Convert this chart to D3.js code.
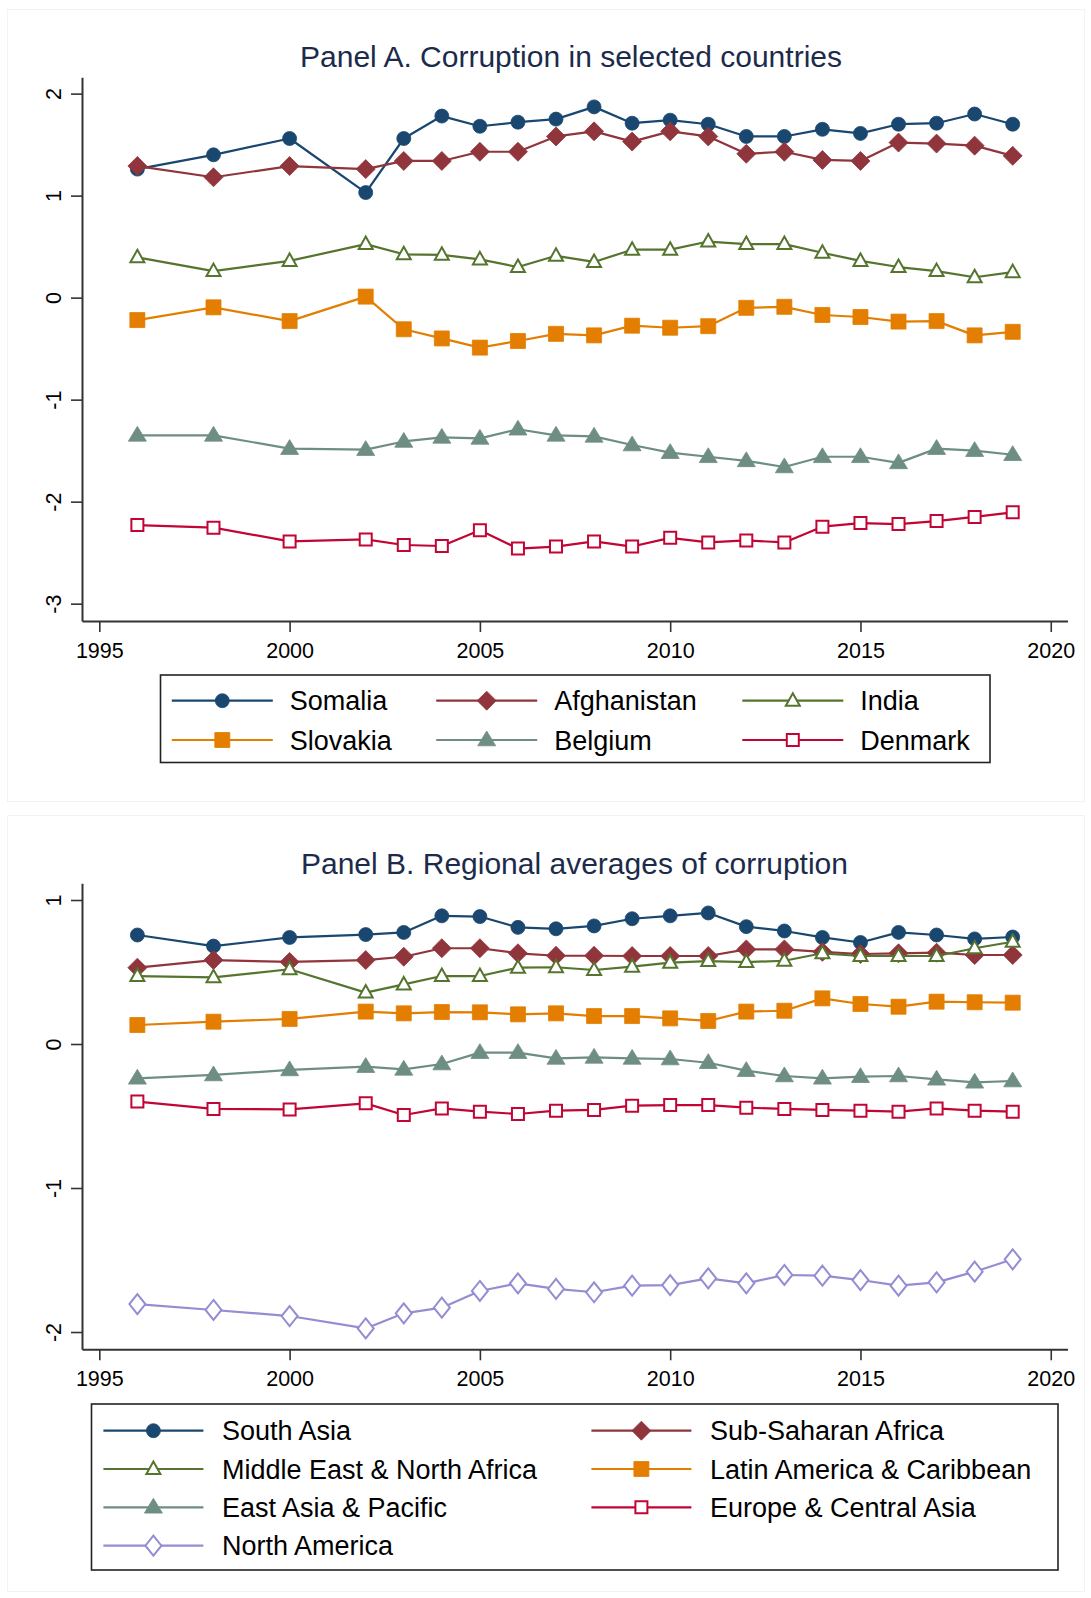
<!DOCTYPE html>
<html>
<head>
<meta charset="utf-8">
<script src="https://cdn.jsdelivr.net/npm/d3@7/dist/d3.min.js"></script>
<style>
  html, body { margin: 0; padding: 0; background: #fff; }
  svg { display: block; font-family: "Liberation Sans", Arial, sans-serif; }
</style>
</head>
<body>
<svg id="chart" width="1091" height="1598"></svg>
<script>
// ---------------- DATA ----------------
const years = [1996, 1998, 2000, 2002, 2003, 2004, 2005, 2006, 2007, 2008, 2009,
               2010, 2011, 2012, 2013, 2014, 2015, 2016, 2017, 2018, 2019];
const xTicks = [1995, 2000, 2005, 2010, 2015, 2020];
const yTicksA = [-3, -2, -1, 0, 1, 2];
const yTicksB = [-2, -1, 0, 1];

const titleA = "Panel A. Corruption in selected countries";
const titleB = "Panel B. Regional averages of corruption";

// Panel A
const somalia     = [1.26, 1.40, 1.56, 1.03, 1.56, 1.78, 1.68, 1.72, 1.75, 1.87, 1.71, 1.74, 1.70, 1.58, 1.58, 1.65, 1.61, 1.70, 1.71, 1.80, 1.70];
const afghanistan = [1.29, 1.18, 1.29, 1.26, 1.34, 1.34, 1.43, 1.43, 1.58, 1.63, 1.53, 1.63, 1.58, 1.41, 1.43, 1.35, 1.34, 1.52, 1.51, 1.49, 1.39];
const india       = [0.395, 0.26, 0.36, 0.525, 0.425, 0.42, 0.375, 0.30, 0.41, 0.35, 0.47, 0.47, 0.55, 0.525, 0.525, 0.44, 0.36, 0.30, 0.26, 0.20, 0.25];
const slovakia    = [-0.22, -0.095, -0.23, 0.01, -0.31, -0.40, -0.49, -0.425, -0.355, -0.37, -0.275, -0.295, -0.28, -0.10, -0.09, -0.17, -0.19, -0.235, -0.23, -0.37, -0.335];
const belgium     = [-1.35, -1.35, -1.48, -1.49, -1.41, -1.37, -1.38, -1.29, -1.35, -1.36, -1.445, -1.52, -1.56, -1.60, -1.66, -1.56, -1.56, -1.62, -1.48, -1.50, -1.54];
const denmark     = [-2.23, -2.255, -2.39, -2.37, -2.425, -2.435, -2.28, -2.46, -2.44, -2.39, -2.44, -2.355, -2.40, -2.38, -2.40, -2.245, -2.21, -2.22, -2.19, -2.15, -2.105];

// Panel B
const southAsia    = [0.757, 0.68, 0.74, 0.76, 0.775, 0.89, 0.885, 0.81, 0.80, 0.82, 0.87, 0.89, 0.91, 0.815, 0.785, 0.74, 0.705, 0.775, 0.757, 0.73, 0.743];
const subSaharan   = [0.53, 0.583, 0.57, 0.583, 0.606, 0.665, 0.665, 0.63, 0.613, 0.613, 0.611, 0.611, 0.611, 0.657, 0.657, 0.64, 0.625, 0.63, 0.634, 0.618, 0.618];
const mena         = [0.472, 0.463, 0.519, 0.357, 0.414, 0.472, 0.472, 0.53, 0.533, 0.514, 0.537, 0.565, 0.576, 0.569, 0.578, 0.63, 0.611, 0.611, 0.611, 0.665, 0.71];
const latam        = [0.132, 0.155, 0.174, 0.225, 0.213, 0.222, 0.22, 0.206, 0.213, 0.194, 0.194, 0.178, 0.16, 0.225, 0.231, 0.317, 0.278, 0.259, 0.294, 0.29, 0.287];
const eastAsia     = [-0.238, -0.215, -0.18, -0.157, -0.176, -0.139, -0.06, -0.06, -0.10, -0.093, -0.10, -0.104, -0.13, -0.185, -0.222, -0.238, -0.227, -0.222, -0.245, -0.266, -0.257];
const europe       = [-0.40, -0.451, -0.454, -0.412, -0.493, -0.447, -0.47, -0.486, -0.463, -0.458, -0.428, -0.424, -0.424, -0.442, -0.451, -0.458, -0.463, -0.47, -0.447, -0.463, -0.47];
const northAmerica = [-1.806, -1.847, -1.889, -1.975, -1.87, -1.831, -1.715, -1.662, -1.701, -1.724, -1.678, -1.674, -1.627, -1.662, -1.604, -1.609, -1.639, -1.678, -1.655, -1.581, -1.495];

// ---------------- STYLE ----------------
const C = {
  navy: "#1a476f", maroon: "#90353b", green: "#55752f", orange: "#e37e00",
  teal: "#6e8e84", cranberry: "#c10534", lavender: "#938dd2"
};
const FONT = "'Liberation Sans', Arial, sans-serif";

// marker path generators (centered at 0,0)
const markers = {
  circle: { d: "M7,0A7,7 0 1,1 -7,0A7,7 0 1,1 7,0Z", hollow: false },
  diamond: { d: "M0,-9.5L9.5,0L0,9.5L-9.5,0Z", hollow: false },
  tri: { d: "M0,-9L9,5.8L-9,5.8Z", hollow: false },
  triO: { d: "M0,-7.5L7,5L-7,5Z", hollow: true },
  square: { d: "M-7.5,-7.5H7.5V7.5H-7.5Z", hollow: false },
  squareO: { d: "M-6,-6H6V6H-6Z", hollow: true },
  diamondO: { d: "M0,-10L8,0L0,10L-8,0Z", hollow: true }
};

const seriesA = [
  { name: "Somalia", values: somalia, color: C.navy, marker: "circle" },
  { name: "Afghanistan", values: afghanistan, color: C.maroon, marker: "diamond" },
  { name: "India", values: india, color: C.green, marker: "triO" },
  { name: "Slovakia", values: slovakia, color: C.orange, marker: "square" },
  { name: "Belgium", values: belgium, color: C.teal, marker: "tri" },
  { name: "Denmark", values: denmark, color: C.cranberry, marker: "squareO" }
];
const seriesB = [
  { name: "South Asia", values: southAsia, color: C.navy, marker: "circle" },
  { name: "Sub-Saharan Africa", values: subSaharan, color: C.maroon, marker: "diamond" },
  { name: "Middle East & North Africa", values: mena, color: C.green, marker: "triO" },
  { name: "Latin America & Caribbean", values: latam, color: C.orange, marker: "square" },
  { name: "East Asia & Pacific", values: eastAsia, color: C.teal, marker: "tri" },
  { name: "Europe & Central Asia", values: europe, color: C.cranberry, marker: "squareO" },
  { name: "North America", values: northAmerica, color: C.lavender, marker: "diamondO" }
];

const svg = d3.select("#chart");
svg.append("rect").attr("width", 1091).attr("height", 1598).attr("fill", "#fff");

// faint panel frames
svg.append("rect").attr("x", 7.5).attr("y", 9.5).attr("width", 1077).attr("height", 792)
  .attr("fill", "none").attr("stroke", "#f3f3f3").attr("stroke-width", 1);
svg.append("rect").attr("x", 7.5).attr("y", 815.5).attr("width", 1077).attr("height", 776)
  .attr("fill", "none").attr("stroke", "#f3f3f3").attr("stroke-width", 1);

function drawMarker(g, m, color, x, y) {
  const mk = markers[m];
  g.append("path").attr("d", mk.d)
    .attr("transform", `translate(${x},${y})`)
    .attr("fill", mk.hollow ? "#fff" : color)
    .attr("stroke", color)
    .attr("stroke-width", mk.hollow ? 2 : 0.8)
    .attr("stroke-linejoin", "miter");
}

function drawPanel(cfg) {
  const g = svg.append("g");
  const x = d3.scaleLinear().domain([1994.545, 2020.44]).range([82, 1067.5]);
  const y = d3.scaleLinear().domain(cfg.yDomain).range([cfg.bottom, cfg.top]);

  // x axis
  const xa = g.append("g").attr("transform", `translate(0,${cfg.bottom})`)
    .call(d3.axisBottom(x).tickValues(xTicks).tickFormat(d => String(d))
      .tickSizeOuter(0).tickSizeInner(11).tickPadding(10.5));
  xa.select(".domain").attr("stroke", "#333").attr("stroke-width", 2);
  xa.selectAll(".tick line").attr("stroke", "#333").attr("stroke-width", 1.6);
  xa.selectAll(".tick text").attr("font-size", 21.5).attr("font-family", FONT).attr("fill", "#000");

  // y axis
  const ya = g.append("g").attr("transform", `translate(82,0)`)
    .call(d3.axisLeft(y).tickValues(cfg.yTicks).tickFormat(d => String(d))
      .tickSizeOuter(0).tickSizeInner(11));
  ya.select(".domain").attr("stroke", "#333").attr("stroke-width", 2);
  ya.selectAll(".tick line").attr("stroke", "#333").attr("stroke-width", 1.6);
  ya.selectAll(".tick text")
    .attr("x", null).attr("dy", null)
    .attr("transform", "translate(-28.5,0) rotate(-90)")
    .attr("text-anchor", "middle").attr("dy", "0.36em")
    .attr("font-size", 21.5).attr("font-family", FONT).attr("fill", "#000");

  // title
  g.append("text").attr("x", cfg.titleX).attr("y", cfg.titleY)
    .attr("text-anchor", "middle").attr("font-size", 30)
    .attr("font-family", FONT).attr("fill", "#1c2b4b").text(cfg.title);

  // series
  const line = d3.line().x(d => x(d[0])).y(d => y(d[1]));
  cfg.series.forEach(s => {
    const pts = years.map((yr, i) => [yr, s.values[i]]);
    const sg = g.append("g");
    sg.append("path").attr("d", line(pts)).attr("fill", "none")
      .attr("stroke", s.color).attr("stroke-width", 2.2).attr("stroke-linejoin", "round");
    pts.forEach(p => drawMarker(sg, s.marker, s.color, x(p[0]), y(p[1])));
  });

  // legend
  const L = cfg.legend;
  g.append("rect").attr("x", L.x).attr("y", L.y).attr("width", L.w).attr("height", L.h)
    .attr("fill", "#fff").attr("stroke", "#222").attr("stroke-width", 1.6);
  cfg.series.forEach((s, i) => {
    const col = i % L.cols, row = Math.floor(i / L.cols);
    const lx = L.colX[col], ly = L.rowY[row];
    g.append("line").attr("x1", lx).attr("x2", lx + L.lineLen).attr("y1", ly).attr("y2", ly)
      .attr("stroke", s.color).attr("stroke-width", 2.2);
    drawMarker(g, s.marker, s.color, lx + L.lineLen / 2, ly);
    g.append("text").attr("x", lx + L.textOff).attr("y", ly).attr("dy", "0.36em")
      .attr("font-size", 27).attr("font-family", FONT).attr("fill", "#000").text(s.name);
  });
}

drawPanel({
  title: titleA, titleX: 571, titleY: 67, top: 77.3, bottom: 621, yDomain: [-3.17, 2.16], yTicks: yTicksA,
  series: seriesA,
  legend: { x: 160.5, y: 675, w: 829.5, h: 87.5, cols: 3, colX: [171.8, 436.2, 742.3],
            rowY: [700.7, 740], lineLen: 101, textOff: 118 }
});
drawPanel({
  title: titleB, titleX: 574.5, titleY: 873.5, top: 883.3, bottom: 1349.3, yDomain: [-2.12, 1.116], yTicks: yTicksB,
  series: seriesB,
  legend: { x: 91.5, y: 1404, w: 966.5, h: 166, cols: 2, colX: [103.4, 591.4],
            rowY: [1430.7, 1469, 1507.3, 1545.7], lineLen: 100, textOff: 118.6 }
});
</script>
</body>
</html>
